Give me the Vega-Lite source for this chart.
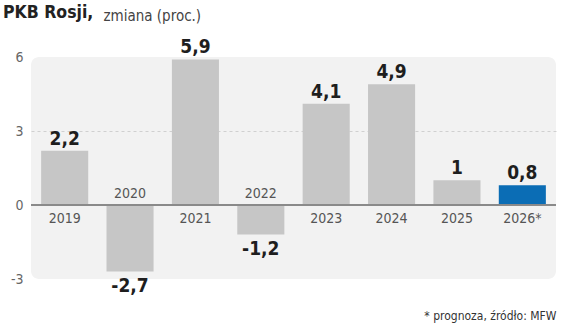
{
  "$schema": "https://vega.github.io/schema/vega-lite/v6.json",
  "width": 525,
  "height": 222,
  "autosize": "none",
  "padding": {"left": 31, "top": 57, "right": 8, "bottom": 55},
  "background": "#ffffff",
  "title": {
    "text": "PKB Rosji,",
    "anchor": "start",
    "frame": "group",
    "dx": -28,
    "offset": -13,
    "font": "DejaVu Sans Condensed",
    "fontSize": 17.5,
    "fontWeight": "bold",
    "color": "#222222"
  },
  "config": {
    "view": {"fill": "#f2f2f2", "stroke": null, "cornerRadius": 8},
    "font": "DejaVu Sans Condensed"
  },
  "data": {
    "values": [
      {"year": "2019", "value": 2.2, "label": "2,2"},
      {"year": "2020", "value": -2.7, "label": "-2,7"},
      {"year": "2021", "value": 5.9, "label": "5,9"},
      {"year": "2022", "value": -1.2, "label": "-1,2"},
      {"year": "2023", "value": 4.1, "label": "4,1"},
      {"year": "2024", "value": 4.9, "label": "4,9"},
      {"year": "2025", "value": 1, "label": "1"},
      {"year": "2026*", "value": 0.8, "label": "0,8"}
    ]
  },
  "encoding": {
    "x": {
      "field": "year",
      "type": "nominal",
      "sort": null,
      "scale": {"paddingInner": 0.28, "paddingOuter": 0.155},
      "axis": {
        "domain": false,
        "ticks": false,
        "labels": false,
        "grid": false,
        "title": "* prognoza, źródło: MFW",
        "titleAnchor": "end",
        "titleFont": "DejaVu Sans Condensed",
        "titleFontSize": 12,
        "titleFontWeight": "normal",
        "titleColor": "#333333",
        "titleBaseline": "middle",
        "titleY": 36
      }
    }
  },
  "layer": [
    {
      "mark": {"type": "bar"},
      "encoding": {
        "y": {
          "field": "value",
          "type": "quantitative",
          "scale": {"domain": [-3, 6], "nice": false, "zero": false},
          "axis": {
            "values": [-3, 0, 3, 6],
            "labelExpr": "replace(datum.label, '−', '-')",
            "domain": false,
            "ticks": false,
            "labelPadding": 8,
            "labelFont": "DejaVu Sans Condensed",
            "labelFontSize": 14,
            "labelColor": "#666666",
            "grid": true,
            "gridColor": "#d0d0d0",
            "gridDash": [3, 3],
            "gridWidth": 1,
            "gridOpacity": {"condition": {"test": "datum.value == 3", "value": 1}, "value": 0},
            "title": "zmiana (proc.)",
            "titleAngle": 0,
            "titleAlign": "left",
            "titleBaseline": "alphabetic",
            "titleX": 72,
            "titleY": -37,
            "titleFont": "DejaVu Sans Condensed",
            "titleFontSize": 15,
            "titleFontWeight": "normal",
            "titleColor": "#444444"
          }
        },
        "color": {
          "condition": {"test": "datum.year == '2026*'", "value": "#0b6db5"},
          "value": "#c6c6c6"
        }
      }
    },
    {
      "mark": {"type": "rule", "color": "#8a8a8a", "strokeWidth": 1.5},
      "encoding": {"y": {"datum": 0, "type": "quantitative"}, "x": {"value": 0}, "x2": {"value": 525}}
    },
    {
      "transform": [{"filter": "datum.value >= 0"}],
      "mark": {"type": "text", "baseline": "alphabetic", "dy": -6, "fontSize": 19, "fontWeight": "bold", "color": "#1e1e1e"},
      "encoding": {"y": {"field": "value", "type": "quantitative"}, "text": {"field": "label"}}
    },
    {
      "transform": [{"filter": "datum.value < 0"}],
      "mark": {"type": "text", "baseline": "top", "dy": 5, "fontSize": 19, "fontWeight": "bold", "color": "#1e1e1e"},
      "encoding": {"y": {"field": "value", "type": "quantitative"}, "text": {"field": "label"}}
    },
    {
      "transform": [{"filter": "datum.value >= 0"}],
      "mark": {"type": "text", "baseline": "top", "dy": 7, "fontSize": 14, "color": "#555555"},
      "encoding": {"y": {"datum": 0, "type": "quantitative"}, "text": {"field": "year"}}
    },
    {
      "transform": [{"filter": "datum.value < 0"}],
      "mark": {"type": "text", "baseline": "alphabetic", "dy": -7, "fontSize": 14, "color": "#555555"},
      "encoding": {"y": {"datum": 0, "type": "quantitative"}, "text": {"field": "year"}}
    }
  ]
}
